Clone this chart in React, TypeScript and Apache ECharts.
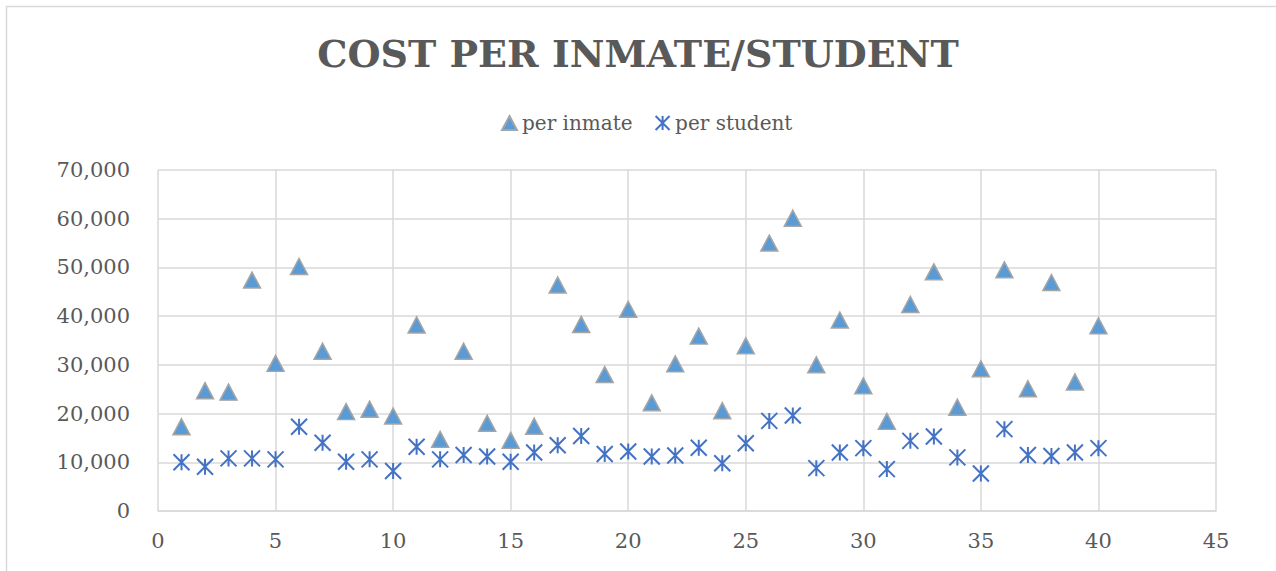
import React, { useEffect, useRef } from "react";
import * as echarts from "echarts";

const xValues = [1,2,3,4,5,6,7,8,9,10,11,12,13,14,15,16,17,18,19,20,21,22,23,24,25,26,27,28,29,30,31,32,33,34,35,36,37,38,39,40];
const perInmate = [17300, 24700, 24400, 47400, 30300, 50200, 32800, 20400, 20900, 19500, 38200, 14700, 32800, 18000, 14500, 17400, 46400, 38300, 28000, 41400, 22200, 30200, 35900, 20600, 33900, 55000, 60100, 30000, 39200, 25700, 18400, 42400, 49100, 21300, 29200, 49500, 25100, 46900, 26500, 38000];
const perStudent = [10000, 9100, 10800, 10800, 10600, 17300, 14000, 10100, 10600, 8200, 13200, 10600, 11500, 11200, 10100, 12000, 13500, 15400, 11700, 12200, 11200, 11400, 13000, 9800, 13900, 18500, 19600, 8800, 12000, 12900, 8600, 14400, 15300, 11000, 7700, 16800, 11500, 11300, 12000, 12900];
const seriesNames = ["per inmate", "per student"];
const titleText = "COST PER INMATE/STUDENT";

const FONT = "'DejaVu Serif', 'Liberation Serif', serif";
const TEXT = "#595959";
const GRID = "#D9D9D9";
const STAR = "path://M0 0L16 16M16 0L0 16M8 0L8 16";

export default function App() {
  const ref = useRef<HTMLDivElement>(null);
  useEffect(() => {
    if (!ref.current) return;
    const chart = echarts.init(ref.current, null, { renderer: "svg" });
    chart.setOption({
      animation: false,
      backgroundColor: "#ffffff",
      title: {
        text: titleText,
        left: "center",
        top: 29,
        textStyle: { fontFamily: FONT, fontSize: 38, fontWeight: "bold", color: TEXT },
      },
      legend: {
        top: 108,
        left: 496,
        itemGap: 22,
        itemWidth: 15,
        itemHeight: 14,
        textStyle: { fontFamily: FONT, fontSize: 20, color: TEXT },
        data: seriesNames,
      },
      graphic: [
        {
          type: "rect",
          shape: { x: 6.5, y: 6.5, width: 1400, height: 700 },
          style: { fill: "none", stroke: GRID, lineWidth: 1.5 },
          silent: true,
        },
      ],
      grid: { left: 158, top: 170, width: 1058, height: 341, containLabel: false },
      xAxis: {
        type: "value",
        min: 0,
        max: 45,
        interval: 5,
        axisLine: { show: true, lineStyle: { color: GRID, width: 1.5 } },
        axisTick: { show: false },
        splitLine: { show: true, lineStyle: { color: GRID, width: 1.5 } },
        axisLabel: { margin: 19, fontFamily: FONT, fontSize: 21, color: TEXT },
      },
      yAxis: {
        type: "value",
        min: 0,
        max: 70000,
        interval: 10000,
        axisLine: { show: false },
        axisTick: { show: false },
        splitLine: { show: true, lineStyle: { color: GRID, width: 1.5 } },
        axisLabel: {
          margin: 28,
          fontFamily: FONT,
          fontSize: 21,
          color: TEXT,
          formatter: (v: number) => v.toLocaleString("en-US"),
        },
      },
      series: [
        {
          name: seriesNames[0],
          type: "scatter",
          symbol: "triangle",
          symbolSize: [17, 16],
          itemStyle: { color: "#5B9BD5", borderColor: "#A5A5A5", borderWidth: 1.5, opacity: 1 },
          data: xValues.map((x, i) => [x, perInmate[i]]),
        },
        {
          name: seriesNames[1],
          type: "scatter",
          symbol: STAR,
          symbolSize: [16, 16],
          itemStyle: { color: "#4472C4", borderColor: "#4472C4", borderWidth: 2, opacity: 1 },
          data: xValues.map((x, i) => [x, perStudent[i]]),
        },
      ],
    });
    return () => chart.dispose();
  }, []);
  return (
    <div
      ref={ref}
      style={{ position: "fixed", left: 0, top: 0, width: 1276, height: 571, background: "#fff" }}
    />
  );
}
